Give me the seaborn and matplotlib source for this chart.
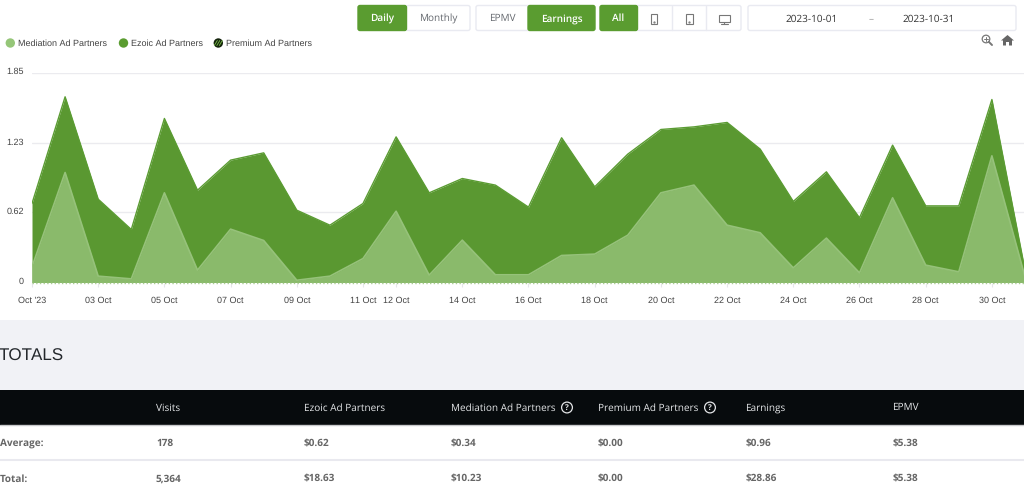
import matplotlib
matplotlib.use("Agg")
import matplotlib.pyplot as plt
from matplotlib.patches import Rectangle, FancyBboxPatch, Circle, Polygon
from matplotlib.transforms import ScaledTranslation
import numpy as np
import pandas as pd
import seaborn as sns

# ---- data ----
dates = pd.date_range("2023-10-01", "2023-10-31")
stack_total = [0.696, 1.636, 0.734, 0.467, 1.445, 0.813, 1.078, 1.142, 0.637, 0.505, 0.696,
               1.283, 0.790, 0.916, 0.858, 0.664, 1.275, 0.843, 1.131, 1.348, 1.371,
               1.410, 1.175, 0.714, 0.975, 0.570, 1.210, 0.675, 0.675, 1.612, 0.110]
mediation = [0.138, 0.969, 0.056, 0.032, 0.790, 0.109, 0.470, 0.370, 0.020, 0.056, 0.211,
             0.628, 0.065, 0.373, 0.068, 0.068, 0.238, 0.250, 0.417, 0.790, 0.858,
             0.505, 0.438, 0.129, 0.391, 0.085, 0.746, 0.153, 0.094, 1.116, 0.050]
y_ticks = [0, 0.62, 1.23, 1.85]
y_tick_labels = ["0", "0.62", "1.23", "1.85"]
x_tick_days = [1, 3, 5, 7, 9, 11, 12, 14, 16, 18, 20, 22, 24, 26, 28, 30]
x_tick_labels = ["Oct '23"] + [f"{d:02d} Oct" for d in x_tick_days[1:]]
legend_names = ["Mediation Ad Partners", "Ezoic Ad Partners", "Premium Ad Partners"]
table_columns = ["Visits", "Ezoic Ad Partners", "Mediation Ad Partners", "Premium Ad Partners", "Earnings", "EPMV"]
table_average = ["178", "$0.62", "$0.34", "$0.00", "$0.96", "$5.38"]
table_total = ["5,364", "$18.63", "$10.23", "$0.00", "$28.86", "$5.38"]

# ---- style ----
GREEN = "#5a9831"
LIGHT = "#8aba6b"
LIGHT_LINE = "#96c27a"
BTN = "#5a9c30"
W, H = 1024, 491
sns.set_theme(style="white")
plt.rcParams["text.hinting"] = "no_hinting"
plt.rcParams["text.hinting_factor"] = 1
CHART = "Liberation Sans"
UI = "Open Sans"

fig = plt.figure(figsize=(W / 100, H / 100), dpi=100, facecolor="white")
ui = fig.add_axes([0, 0, 1, 1], zorder=0)
ui.set_xlim(0, W)
ui.set_ylim(H, 0)
ui.axis("off")


def button(x0, x1, y0=5.5, y1=30.5, fill="white", edge="#e9eaf1"):
    ui.add_patch(FancyBboxPatch((x0 + 1, y0 + 1), x1 - x0 - 2, y1 - y0 - 2,
                                boxstyle="round,pad=1,rounding_size=2",
                                fc=fill, ec=edge, lw=1))


# ---- toolbar ----
button(406, 470)
button(358, 406.5, fill=BTN, edge=BTN)
button(476, 530)
button(528, 595, fill=BTN, edge=BTN)
button(636, 741)
button(600, 637.5, fill=BTN, edge=BTN)
button(748, 1016)
for xd in (672, 706):
    ui.plot([xd, xd], [6, 30], color="#e9eaf1", lw=1)
for x, s, c in [(382, "Daily", "white"), (438, "Monthly", "#666a70"), (502, "EPMV", "#666a70"),
                (561.5, "Earnings", "white"), (618.5, "All", "white")]:
    ui.text(x, 18.5, s, color=c, family=UI, fontsize=7.3, ha="center", va="center",
            fontweight="semibold" if c == "white" else "normal")
ui.text(812, 19, "2023-10-01", color="#333333", family=UI, fontsize=7.3, ha="center", va="center")
ui.text(871, 19, "–", color="#999999", family=UI, fontsize=7.3, ha="center", va="center")
ui.text(929, 19, "2023-10-31", color="#333333", family=UI, fontsize=7.3, ha="center", va="center")

# device icons
ui.add_patch(Rectangle((651, 13.5), 6, 10.5, fc="none", ec="#777777", lw=0.8))
ui.plot([654], [22], ".", ms=1.2, color="#777777")
ui.add_patch(Rectangle((685.5, 13.5), 7.5, 10.5, fc="none", ec="#777777", lw=0.8))
ui.plot([689.2], [22], ".", ms=1.2, color="#777777")
ui.add_patch(Rectangle((719, 14.5), 10.5, 7, fc="none", ec="#777777", lw=0.8))
ui.plot([724.2, 724.2], [21.5, 23.5], color="#777777", lw=0.8)
ui.plot([721, 727.5], [23.7, 23.7], color="#777777", lw=0.8)
# zoom + home icons
ui.add_patch(Circle((986, 39), 3.8, fc="none", ec="#777777", lw=0.9))
ui.plot([988.8, 992], [41.8, 45], color="#777777", lw=1.4)
ui.plot([984, 988], [39, 39], color="#777777", lw=0.7)
ui.plot([986, 986], [37, 41], color="#777777", lw=0.7)
ui.add_patch(Polygon([(1001, 40.5), (1007.5, 35), (1014, 40.5), (1012, 40.5), (1012, 45.5),
                      (1009, 45.5), (1009, 42), (1006, 42), (1006, 45.5), (1003, 45.5), (1003, 40.5)],
                     closed=True, fc="#666666", ec="none"))

# ---- legend ----
leg_marks = [(10.3, 43, "#95c678", None), (123.5, 43, "#5a9c30", None), (218.3, 43, "#14240c", "#7cc04a")]
leg_text_x = [18, 131, 226.5]
for (x, y, col, hatch_col), name, tx in zip(leg_marks, legend_names, leg_text_x):
    ui.add_patch(Circle((x, y), 4.7, fc=col, ec="none"))
    if hatch_col:
        for dx in (-2.5, 0, 2.5):
            ui.plot([x + dx - 1.5, x + dx + 1.5], [y + 2.5, y - 2.5], color=hatch_col, lw=0.6)
    ui.text(tx, 44, name, family=CHART, fontsize=6.75, color="#444444", va="center", ha="left")

# ---- page panels ----
ui.add_patch(Rectangle((0, 320), W, 70, fc="#f1f2f6", ec="none"))
ui.add_patch(Rectangle((0, 390), W, 35, fc="#070b0d", ec="none"))
ui.plot([0, W], [425.3, 425.3], color="#c9cacc", lw=1)
ui.plot([0, W], [460, 460], color="#e9e9ef", lw=1.5)
ui.text(-1, 356, "TOTALS", family=CHART, fontsize=12, color="#23272b", ha="left", va="center")

TBL = 7.4
col_x = [156, 303.5, 451, 598, 745.5, 892.5]
for x, c, a, t in zip(col_x, table_columns, table_average, table_total):
    ui.text(x, 410.5, c, family=UI, fontsize=TBL, color="#e4e6e8", va="baseline", ha="left")
    ui.text(x, 446, a, family=UI, fontsize=TBL, fontweight="bold", color="#666666", va="baseline", ha="left")
    ui.text(x, 481.5, t, family=UI, fontsize=TBL, fontweight="bold", color="#666666", va="baseline", ha="left")
    if c in ("Mediation Ad Partners", "Premium Ad Partners"):
        cx = {"Mediation Ad Partners": 567, "Premium Ad Partners": 710}[c]
        ui.add_patch(Circle((cx, 407.5), 5.4, fc="none", ec="#e4e6e8", lw=0.9))
        ui.text(cx, 407.5, "?", family=UI, fontsize=6, fontweight="bold", color="#e4e6e8", ha="center", va="center")
ui.text(0, 446, "Average:", family=UI, fontsize=TBL, fontweight="bold", color="#666666", va="baseline", ha="left")
ui.text(0, 481.5, "Total:", family=UI, fontsize=TBL, fontweight="bold", color="#666666", va="baseline", ha="left")

# ---- chart ----
left, right, top, bottom = 32, 1024, 72.5, 282.5
ax = fig.add_axes([left / W, 1 - bottom / H, (right - left) / W, (bottom - top) / H], zorder=2)
ax.patch.set_alpha(0)
df = pd.DataFrame({"date": dates, "total": stack_total, "mediation": mediation})
ax.fill_between(df["date"], 0, df["total"], color=GREEN, lw=0, zorder=2)
sns.lineplot(data=df, x="date", y="total", ax=ax, color="#5b9c33", lw=1.0, zorder=3)
ax.fill_between(df["date"], 0, df["mediation"], color=LIGHT, lw=0, zorder=4)
sns.lineplot(data=df, x="date", y="mediation", ax=ax, color=LIGHT_LINE, lw=1.2, zorder=5)

ax.set_xlim(dates[0], dates[0] + pd.Timedelta(days=29.97))
ax.set_ylim(0, 1.85)
ax.set_xlabel("")
ax.set_ylabel("")
for s in ax.spines.values():
    s.set_visible(False)
ax.set_yticks(y_ticks)
ax.set_yticklabels(y_tick_labels, family=CHART, fontsize=6.6, color="#444444")
ax.set_xticks([pd.Timestamp(2023, 10, d) for d in x_tick_days])
ax.set_xticklabels(x_tick_labels, family=CHART, fontsize=6.8, color="#444444")
ax.tick_params(axis="y", length=0, pad=6)
ax.tick_params(axis="x", length=3, width=0.8, color="#e6e6ea", pad=7, bottom=True)
ax.grid(axis="y", color="#ebebef", lw=1, zorder=1)
ax.grid(axis="x", visible=False)
ax.set_axisbelow(True)
ax.plot([0, 1], [0, 0], transform=ax.transAxes, color="#a9cc92", lw=1, ls=":", zorder=6, clip_on=False)
off = ScaledTranslation(0, 1.5 / 100, fig.dpi_scale_trans)
for lab in ax.get_yticklabels():
    lab.set_transform(lab.get_transform() + off)

fig.savefig("out.png", dpi=100, facecolor="white")
